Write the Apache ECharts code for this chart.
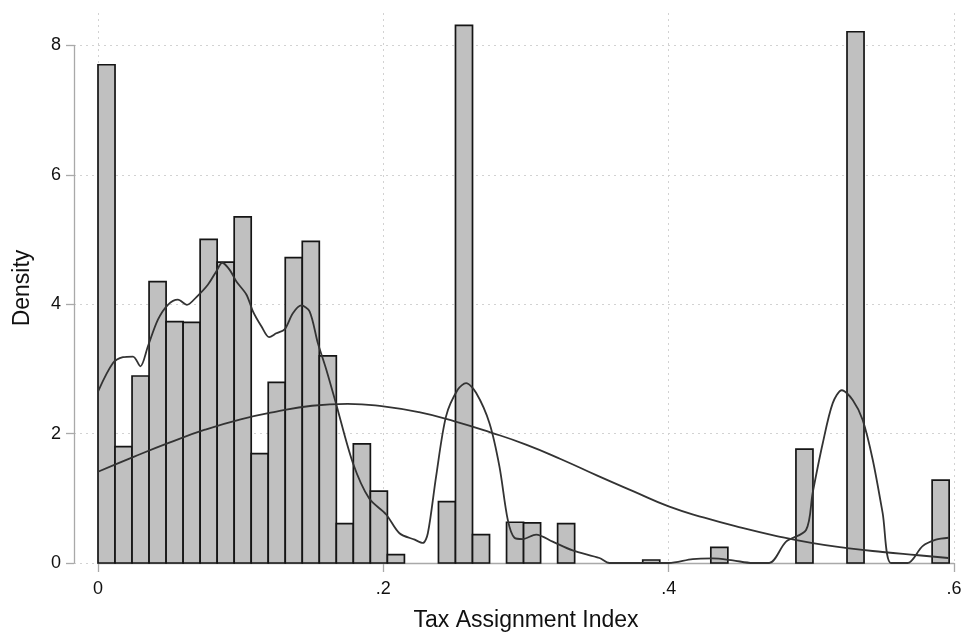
<!DOCTYPE html>
<html>
<head>
    <meta charset="utf-8">
    <title>Tax Assignment Index</title>
    <script src="https://cdn.jsdelivr.net/npm/echarts@6/dist/echarts.min.js"></script>
    <style>
        html, body { margin: 0; padding: 0; background: #fff; }
    </style>
</head>
<body>
<div id="main" style="width: 963px;height:632px;"></div>
<script type="text/javascript">
    // histogram: 50 bins starting at 0
    var binWidth = 0.011932;
    var binHeights = [7.70, 1.80, 2.89, 4.35, 3.73, 3.72, 5.00, 4.65, 5.35, 1.69,
                      2.79, 4.72, 4.97, 3.20, 0.61, 1.84, 1.11, 0.13, 0, 0,
                      0.95, 8.31, 0.44, 0, 0.63, 0.62, 0, 0.61, 0, 0,
                      0, 0, 0.046, 0, 0, 0, 0.24, 0, 0, 0,
                      0, 1.76, 0, 0, 8.21, 0, 0, 0, 0, 1.28];

    // kernel density
    var kdeX = [0, 0.0105, 0.0175, 0.0245, 0.0297, 0.035, 0.042, 0.049, 0.056, 0.0623,
                0.069, 0.077, 0.083, 0.0871, 0.0923, 0.097, 0.104, 0.1086, 0.1145, 0.120,
                0.125, 0.1308, 0.1366, 0.1425, 0.1483, 0.1541, 0.160, 0.167, 0.1786, 0.190,
                0.202, 0.2113, 0.222, 0.2277, 0.2312, 0.237, 0.244, 0.2522, 0.258, 0.265,
                0.2744, 0.2814, 0.2872, 0.2919, 0.2977, 0.3071, 0.3187, 0.3327, 0.3515, 0.3585,
                0.4, 0.4168, 0.4308, 0.445, 0.4588, 0.4705, 0.4823, 0.4963, 0.5009, 0.508,
                0.515, 0.5214, 0.529, 0.536, 0.543, 0.550, 0.5558, 0.5674, 0.578, 0.5873, 0.5962];
    var kdeY = [2.65, 3.09, 3.18, 3.19, 3.04, 3.35, 3.76, 3.99, 4.07, 3.99,
                4.11, 4.30, 4.51, 4.64, 4.53, 4.35, 4.15, 3.89, 3.66, 3.49,
                3.55, 3.61, 3.86, 3.98, 3.89, 3.40, 2.99, 2.45, 1.55, 1.00,
                0.75, 0.46, 0.36, 0.31, 0.46, 1.34, 2.27, 2.68, 2.78, 2.63,
                2.16, 1.49, 0.67, 0.39, 0.37, 0.44, 0.33, 0.195, 0.077, 0,
                0, 0.06, 0.07, 0.04, 0, 0, 0.33, 0.51, 1.08, 1.85,
                2.47, 2.67, 2.52, 2.21, 1.60, 0.77, 0, 0, 0.26, 0.36, 0.39];

    // normal density
    var normX = [0, 0.025, 0.05, 0.075, 0.1, 0.125, 0.15, 0.175, 0.2, 0.225, 0.25, 0.275, 0.3,
                 0.325, 0.35, 0.375, 0.4, 0.425, 0.45, 0.475, 0.5, 0.525, 0.55, 0.575, 0.596];
    var normY = [1.41, 1.64, 1.86, 2.06, 2.22, 2.34, 2.43, 2.46, 2.42, 2.33, 2.19, 2.02, 1.83,
                 1.60, 1.35, 1.11, 0.875, 0.70, 0.55, 0.42, 0.31, 0.23, 0.17, 0.12, 0.077];

    var xTicks = ['0', '.2', '.4', '.6'];

    var font = 'Liberation Sans, Arial, sans-serif';
    var gridDot = { color: '#d2d2d2', width: 1, type: [2, 4] };
    var axisGray = '#a9a9a9';

    var bars = [];
    for (var i = 0; i < binHeights.length; i++) {
        if (binHeights[i] > 0) bars.push([i * binWidth, (i + 1) * binWidth, binHeights[i]]);
    }
    var kde = kdeX.map(function (x, i) { return [x, kdeY[i]]; });
    var norm = normX.map(function (x, i) { return [x, normY[i]]; });

    var myChart = echarts.init(document.getElementById('main'));

    var option = {
        backgroundColor: '#fff',
        animation: false,
        grid: [
            { left: 98, right: 9, top: 13, bottom: 69, outerBoundsMode: 'none' },
            { left: 74, width: 24, top: 45.5, bottom: 69, outerBoundsMode: 'none' }
        ],
        xAxis: [{
            gridIndex: 0, type: 'value', min: 0, max: 0.6, interval: 0.2,
            name: 'Tax Assignment Index', nameLocation: 'middle', nameGap: 46,
            nameTextStyle: { fontFamily: font, fontSize: 23, color: '#111' },
            axisLine: { show: true, lineStyle: { color: axisGray, width: 1.3 } },
            axisTick: { show: true, length: 9, lineStyle: { color: axisGray, width: 1.3 } },
            axisLabel: {
                margin: 17, fontFamily: font, fontSize: 18, color: '#111',
                formatter: function (v) { return xTicks[Math.round(v / 0.2)]; }
            },
            splitLine: { show: true, lineStyle: gridDot }
        }, {
            gridIndex: 1, type: 'value', min: 0, max: 1, show: false
        }],
        yAxis: [{
            gridIndex: 0, type: 'value', min: 0, max: 8.5, interval: 2,
            name: 'Density', nameLocation: 'middle', nameGap: 64,
            nameTextStyle: { fontFamily: font, fontSize: 23, color: '#111' },
            axisLine: { show: false }, axisTick: { show: false }, axisLabel: { show: false },
            splitLine: { show: true, showMaxLine: false, lineStyle: gridDot }
        }, {
            gridIndex: 1, type: 'value', min: 0, max: 8, interval: 2,
            axisLine: { show: true, lineStyle: { color: axisGray, width: 1.3 } },
            axisTick: { show: true, length: 8, lineStyle: { color: axisGray, width: 1.3 } },
            axisLabel: { margin: 13, fontFamily: font, fontSize: 18, color: '#111' },
            splitLine: { show: true, lineStyle: gridDot }
        }],
        series: [{
            type: 'custom',
            xAxisIndex: 0, yAxisIndex: 0,
            data: bars,
            encode: { x: [0, 1], y: 2 },
            renderItem: function (params, api) {
                var p0 = api.coord([api.value(0), api.value(2)]);
                var p1 = api.coord([api.value(1), 0]);
                return {
                    type: 'rect',
                    shape: { x: p0[0], y: p0[1], width: p1[0] - p0[0], height: p1[1] - p0[1] },
                    style: { fill: '#c0c0c0', stroke: '#151515', lineWidth: 1.7 }
                };
            },
            z: 2
        }, {
            type: 'line', xAxisIndex: 0, yAxisIndex: 0,
            data: kde, showSymbol: false, smooth: 0.3,
            lineStyle: { color: '#333', width: 1.8 }, z: 3
        }, {
            type: 'line', xAxisIndex: 0, yAxisIndex: 0,
            data: norm, showSymbol: false, smooth: true,
            lineStyle: { color: '#333', width: 1.8 }, z: 3
        }]
    };

    myChart.setOption(option);
</script>
</body>
</html>
